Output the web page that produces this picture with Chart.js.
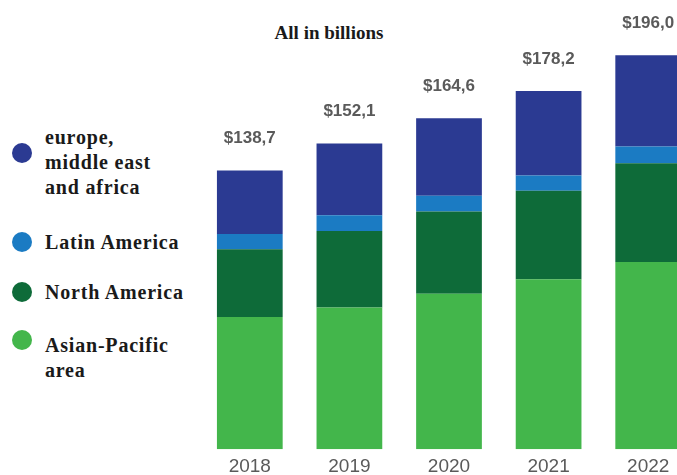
<!DOCTYPE html>
<html>
<head>
<meta charset="utf-8">
<script src="https://cdn.jsdelivr.net/npm/chart.js"></script>
<style>
  html, body { margin: 0; padding: 0; background: #fff; }
  body { width: 677px; height: 475px; overflow: hidden; position: relative; }
  #wrap { position: absolute; left: 200px; top: 0; width: 498px; height: 484px; }
  #title { position: absolute; left: 229px; top: 22px; width: 200px; text-align: center;
    font: bold 19px "Liberation Serif", "Times New Roman", serif; color: #1a1a1a; }
  .item { position: absolute; left: 45px; font: bold 20px/25px "Liberation Serif", "Times New Roman", serif;
    color: #1a1a1a; letter-spacing: 0.8px; }
  .dot { position: absolute; left: 12px; width: 20px; height: 20px; border-radius: 50%; }
</style>
</head>
<body>
<div id="title">All in billions</div>
<div id="legend"></div>
<div id="wrap"><canvas id="chartMarket"></canvas></div>
<script>
// data
const years = ["2018", "2019", "2020", "2021", "2022"];
const asianPacific = [65.8, 70.5, 77.4, 84.5, 93.1];
const northAmerica = [33.7, 38.0, 40.9, 44.1, 49.2];
const latinAmerica = [7.6, 7.9, 7.8, 7.6, 8.3];
const europeMEA = [31.6, 35.7, 38.5, 42.0, 45.4];
const totals = [138.7, 152.1, 164.6, 178.2, 196.0];

const colors = {
  europe: "#2b3a92",
  latin: "#1b7bc3",
  north: "#0e6b39",
  asian: "#43b64b"
};

// legend (left side)
const legendItems = [
  { lines: ["europe,", "middle east", "and africa"], color: colors.europe, top: 125, dot: 143 },
  { lines: ["Latin America"], color: colors.latin, top: 230, dot: 232 },
  { lines: ["North America"], color: colors.north, top: 280, dot: 282 },
  { lines: ["Asian-Pacific", "area"], color: colors.asian, top: 333, dot: 330 }
];
const legend = document.getElementById("legend");
legendItems.forEach(it => {
  const d = document.createElement("div");
  d.className = "dot";
  d.style.top = it.dot + "px";
  d.style.background = it.color;
  legend.appendChild(d);
  const t = document.createElement("div");
  t.className = "item";
  t.style.top = it.top + "px";
  t.innerHTML = it.lines.join("<br>");
  legend.appendChild(t);
});

// totals above bars
const totalLabels = {
  id: "totalLabels",
  afterDatasetsDraw(chart) {
    const { ctx, scales } = chart;
    ctx.save();
    ctx.font = "bold 17px 'Liberation Sans', Arial, sans-serif";
    ctx.fillStyle = "#5a5a5a";
    ctx.textAlign = "center";
    ctx.textBaseline = "middle";
    totals.forEach((v, i) => {
      const x = scales.x.getPixelForValue(i);
      const y = scales.y.getPixelForValue(v) - 32;
      ctx.fillText("$" + v.toFixed(1).replace(".", ","), x, y);
    });
    ctx.restore();
  }
};

const ctx = document.getElementById("chartMarket");
new Chart(ctx, {
  type: "bar",
  data: {
    labels: years,
    datasets: [
      { label: "Asian-Pacific area", data: asianPacific, backgroundColor: colors.asian },
      { label: "North America", data: northAmerica, backgroundColor: colors.north },
      { label: "Latin America", data: latinAmerica, backgroundColor: colors.latin },
      { label: "europe, middle east and africa", data: europeMEA, backgroundColor: colors.europe }
    ]
  },
  options: {
    responsive: true,
    maintainAspectRatio: false,
    animation: false,
    layout: { padding: { top: 7, left: 0, right: 0, bottom: 0 } },
    datasets: { bar: { barPercentage: 0.66, categoryPercentage: 1 } },
    plugins: { legend: { display: false }, tooltip: { enabled: false } },
    scales: {
      x: {
        stacked: true,
        grid: { display: false, drawTicks: false },
        border: { display: false },
        ticks: { padding: 6, color: "#5a5a5a", font: { size: 19, family: "'Liberation Sans', Arial, sans-serif" } }
      },
      y: { stacked: true, display: false, min: 0, max: 220 }
    }
  },
  plugins: [totalLabels]
});
</script>
</body>
</html>
